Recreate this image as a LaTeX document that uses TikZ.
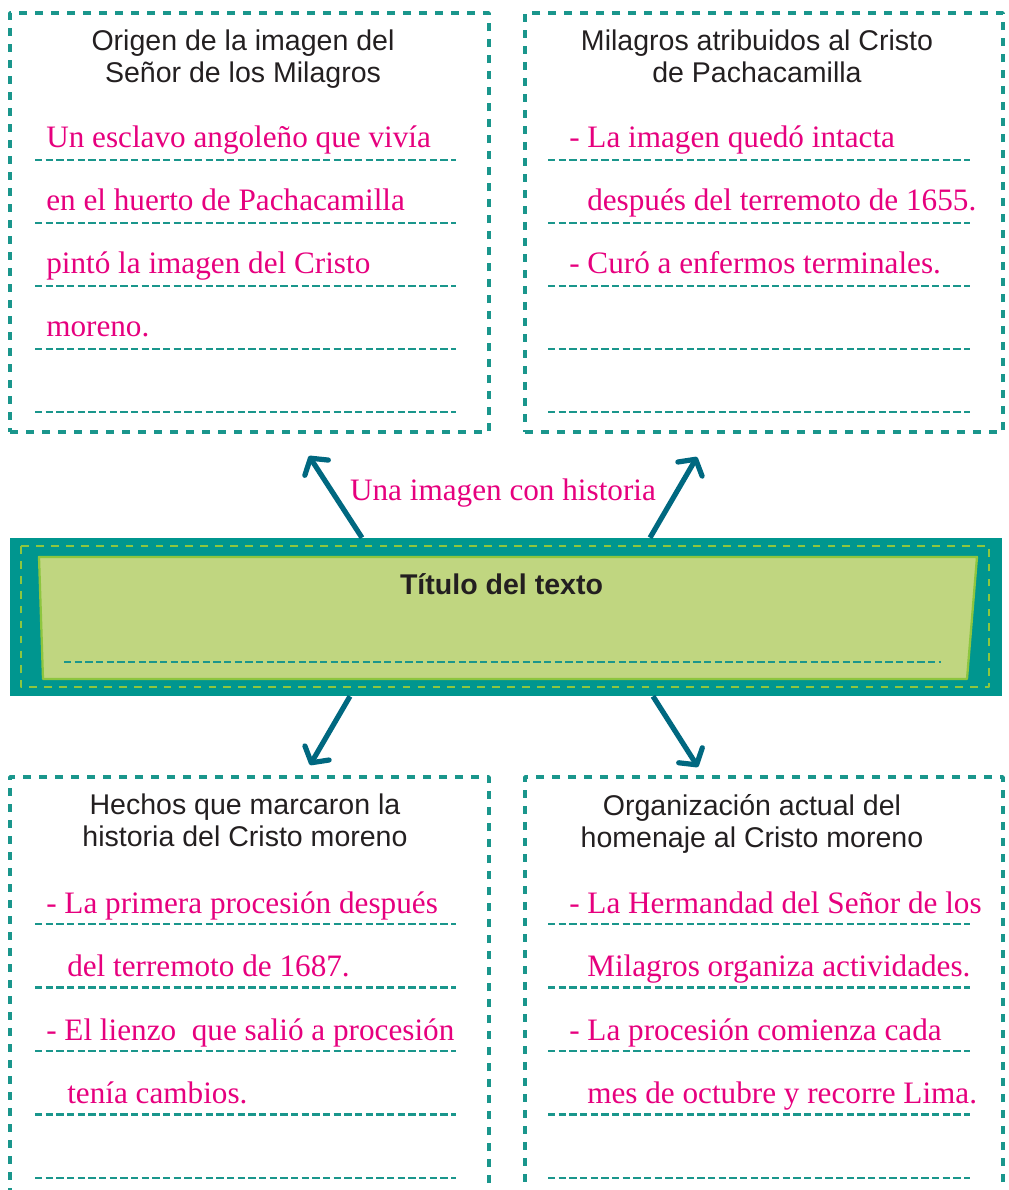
\documentclass[tikz,border=0pt]{standalone}
\usepackage{fontspec}
\setmainfont{Liberation Serif}
\setsansfont{Liberation Sans}
\usetikzlibrary{arrows.meta}
\definecolor{trazo}{RGB}{26,150,140}
\definecolor{banda}{RGB}{0,150,143}
\definecolor{hoja}{RGB}{141,198,63}
\definecolor{palido}{RGB}{192,214,128}
\definecolor{fucsia}{RGB}{230,0,126}
\definecolor{azul}{RGB}{0,104,128}
\definecolor{tinta}{RGB}{35,31,32}
\begin{document}
\begin{tikzpicture}[x=0.75pt, y=-0.75pt, line join=round, line cap=round, >={Straight Barb[length=8.5pt,width=21pt,round]}]
			\tikzset{caja/.style={draw=trazo, line width=2.6pt, line cap=butt, dash pattern=on 5.8pt off 6.2pt, inner sep=0},
				renglon/.style={draw=trazo, line width=2.1pt, line cap=butt, dash pattern=on 5.4pt off 2.6pt},
				rosa/.style={text=fucsia, font=\fontsize{23.4}{28}\selectfont, anchor=base west, inner sep=0},
				tema/.style={text=tinta, font=\sffamily\fontsize{21.4}{24}\selectfont, align=center, anchor=north, inner sep=0},
				flecha/.style={->, draw=azul, line width=3.9pt, line cap=butt}}
			\clip (0,0) rectangle (1008,1190);
			% cuatro recuadros
			\node[caja, minimum width=359.25pt, minimum height=314.25pt] (ori) at (249.5,222.5) {};
			\node[caja, minimum width=358.5pt, minimum height=314.25pt] (mil) at (764,222.5) {};
			\node[caja, minimum width=359.25pt, minimum height=317.25pt] (hec) at (249.5,988.5) {};
			\node[caja, minimum width=358.5pt, minimum height=317.25pt] (org) at (764,988.5) {};
			\node[tema] (oriT) at (243,30) {Origen de la imagen del\\Señor de los Milagros};
			\node[tema] (milT) at (757,30) {Milagros atribuidos al Cristo\\de Pachacamilla};
			\node[tema] (hecT) at (245,794) {Hechos que marcaron la\\historia del Cristo moreno};
			\node[tema] (orgT) at (752,794) {Organización actual del\\homenaje al Cristo moreno};
			\foreach \k in {0,...,4}{
				\draw[renglon] (35,160+63*\k) -- (456,160+63*\k);
				\draw[renglon] (548,160+63*\k) -- (970,160+63*\k);
				\draw[renglon] (35,924+63.5*\k) -- (456,924+63.5*\k);
				\draw[renglon] (548,924+63.5*\k) -- (970,924+63.5*\k);
			}
			\foreach \x/\t [count=\i from 0] in {46/Un esclavo angoleño que vivía, 46/en el huerto de Pachacamilla, 46/pintó la imagen del Cristo, 46/moreno.}
				\node[rosa] (o\i) at (\x,147+63.3*\i) {\t};
			\foreach \x/\t [count=\i from 0] in {569/- La imagen quedó intacta, 587/después del terremoto de 1655., 569/- Curó a enfermos terminales.}
				\node[rosa] (m\i) at (\x,147+63.3*\i) {\t};
			\foreach \x/\t [count=\i from 0] in {46/- La primera procesión después, 67/del terremoto de 1687., 46/- El lienzo\ \ que salió a procesión, 67/tenía cambios.}
				\node[rosa] (h\i) at (\x,913+63.5*\i) {\t};
			\foreach \x/\t [count=\i from 0] in {569/- La Hermandad del Señor de los, 587/Milagros organiza actividades., 569/- La procesión comienza cada, 587/mes de octubre y recorre Lima.}
				\node[rosa] (g\i) at (\x,913+63.5*\i) {\t};
			% franja del titulo
			\node[fill=banda, minimum width=744pt, minimum height=118.5pt, inner sep=0] (tit) at (506,617) {};
			\draw[hoja, line width=2.2pt, line cap=butt, dash pattern=on 5.8pt off 5.4pt] (21,546) rectangle (989,687);
			\draw[hoja, fill=palido, line width=1.7pt] (39,557) -- (977,557) -- (967,679) -- (43,679) -- cycle;
			\draw[renglon] (64,662) -- (941,662);
			\node[text=tinta, font=\sffamily\bfseries\fontsize{21.4}{24}\selectfont, anchor=base, inner sep=0] (titT) at (501.5,594) {Título del texto};
			\node[rosa, anchor=base] (lema) at (503,500) {Una imagen con historia};
			% flechas
			\coordinate (p1) at (309,456);
			\coordinate (p2) at (697,457);
			\coordinate (p3) at (310,765);
			\coordinate (p4) at (698,767);
			\draw[flecha] ([xshift=-108pt]tit.north) -- (p1);
			\draw[flecha] ([xshift=108pt]tit.north) -- (p2);
			\draw[flecha] ([xshift=-117pt]tit.south) -- (p3);
			\draw[flecha] ([xshift=110.25pt]tit.south) -- (p4);
		\end{tikzpicture}
\end{document}
